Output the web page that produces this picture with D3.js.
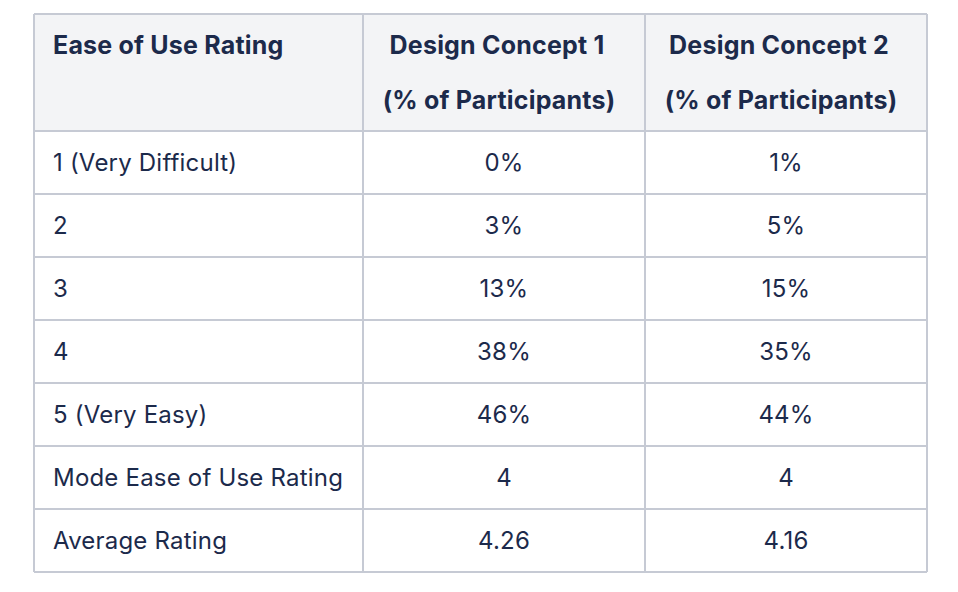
<!DOCTYPE html>
<meta charset="utf-8">
<script src="https://d3js.org/d3.v7.min.js"></script>
<style>
body { margin: 0; background: #fff; }
text { font-family: Inter, "Noto Sans", sans-serif; fill: #1c2a4b; }
</style>
<body>
<div id="my_table"></div>
<script>
// table contents
var headers = [["Ease of Use Rating"], ["Design Concept 1", "(% of Participants)"], ["Design Concept 2", "(% of Participants)"]];
var ratings = ["1 (Very Difficult)", "2", "3", "4", "5 (Very Easy)", "Mode Ease of Use Rating", "Average Rating"];
var concept1 = ["0%", "3%", "13%", "38%", "46%", "4", "4.26"];
var concept2 = ["1%", "5%", "15%", "35%", "44%", "4", "4.16"];

var W = 958, H = 592;
var colEdges = [34, 363, 645, 927];
var tableTop = 14, headH = 117, rowH = 63;
var border = "#c6cad4";

var svg = d3.select("#my_table").append("svg")
    .attr("width", W).attr("height", H);

var rows = ratings.map(function(r, i) { return [r, concept1[i], concept2[i]]; });

var y = d3.scaleBand()
    .domain(d3.range(rows.length))
    .range([tableTop + headH, tableTop + headH + rowH * rows.length]);

// header background
svg.append("rect")
    .attr("x", colEdges[0]).attr("y", tableTop)
    .attr("width", colEdges[3] - colEdges[0]).attr("height", headH)
    .style("fill", "#f3f4f6");

// header text (centred ones sit a little left of centre, like the original)
headers.forEach(function(lines, c) {
  lines.forEach(function(t, k) {
    svg.append("text")
      .attr("x", c == 0 ? colEdges[0] + 19 : (colEdges[c] + colEdges[c + 1]) / 2 - (k == 0 ? 7 : 5))
      .attr("y", tableTop + 40 + k * 55)
      .style("text-anchor", c == 0 ? "start" : "middle")
      .style("font-size", "25px")
      .style("font-weight", 700)
      .style("letter-spacing", "0.2px")
      .text(t);
  });
});

// body cells
rows.forEach(function(row, i) {
  row.forEach(function(t, c) {
    svg.append("text")
      .attr("x", c == 0 ? colEdges[0] + 19 : (colEdges[c] + colEdges[c + 1]) / 2)
      .attr("y", y(i) + rowH / 2)
      .attr("dy", "0.35em")
      .style("text-anchor", c == 0 ? "start" : "middle")
      .style("font-size", "24px")
      .style("letter-spacing", "0.2px")
      .text(t);
  });
});

// grid lines
var hLines = [tableTop, tableTop + headH].concat(rows.map(function(d, i) { return y(i) + rowH; }));
svg.selectAll(".hl").data(hLines).enter().append("line")
    .attr("x1", colEdges[0]).attr("x2", colEdges[3])
    .attr("y1", function(d) { return d; }).attr("y2", function(d) { return d; })
    .style("stroke", border).style("stroke-width", 2);
svg.selectAll(".vl").data(colEdges).enter().append("line")
    .attr("x1", function(d) { return d; }).attr("x2", function(d) { return d; })
    .attr("y1", tableTop).attr("y2", hLines[hLines.length - 1])
    .style("stroke", border).style("stroke-width", 2);
</script>
</body>
